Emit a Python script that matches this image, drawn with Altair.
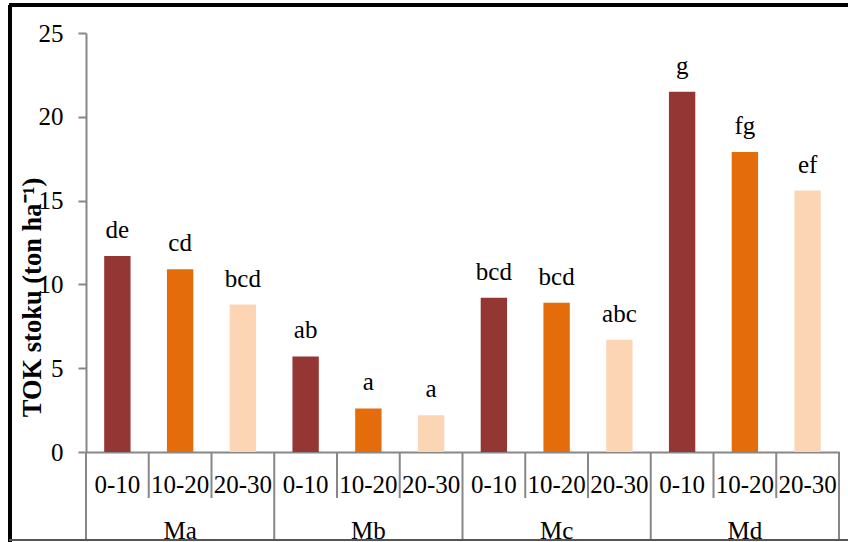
import altair as alt
import pandas as pd

# Soil organic carbon stock by management system and sampling depth
groups = ["Ma", "Mb", "Mc", "Md"]
depths = ["0-10", "10-20", "20-30"]
toc_stock = [11.7, 10.9, 8.8, 5.7, 2.6, 2.2, 9.2, 8.9, 6.7, 21.5, 17.9, 15.6]
letters = ["de", "cd", "bcd", "ab", "a", "a", "bcd", "bcd", "abc", "g", "fg", "ef"]
y_ticks = [0, 5, 10, 15, 20, 25]
bar_colors = ["#943634", "#E46C0A", "#FCD5B5"]

W, H = 753, 419
FONT = "Liberation Serif"
FS = 25
GRAY = "#878787"

rows = []
for gi, g in enumerate(groups):
    for di, d in enumerate(depths):
        k = gi * len(depths) + di
        rows.append({
            "key": f"{g} {d}",
            "group": g,
            "depth": d,
            "toc": toc_stock[k],
            "letter": letters[k],
            "first": di == 0,
            "middle": di == 1,
        })
df = pd.DataFrame(rows)
order = list(df["key"])

xs = alt.Scale(domain=order, paddingInner=0, paddingOuter=0)
x_enc = alt.X("key:N", scale=xs, sort=order,
              axis=alt.Axis(labels=False, ticks=False, title=None, domain=True,
                            domainColor=GRAY, domainWidth=2))
y_enc = alt.Y("toc:Q", scale=alt.Scale(domain=[0, 25], nice=False),
              axis=alt.Axis(values=y_ticks, grid=False, domainColor=GRAY, domainWidth=2,
                            tickColor=GRAY, tickWidth=2, tickSize=8,
                            labelFont=FONT, labelFontSize=FS, labelColor="black",
                            labelPadding=15,
                            title="TOK stoku (ton ha\u207b\u00b9)", titleFont=FONT,
                            titleFontSize=26.5, titleFontWeight="bold", titleColor="black",
                            titleAngle=-90, titleX=-54, titleY=264,
                            titleAlign="center", titleBaseline="middle"))

base = alt.Chart(df)

bars = base.mark_bar(width=alt.RelativeBandSize(0.42)).encode(
    x=x_enc,
    y=y_enc,
    color=alt.Color("depth:N", scale=alt.Scale(domain=depths, range=bar_colors), legend=None),
)

bar_text = base.mark_text(font=FONT, fontSize=FS, baseline="alphabetic", dy=-18, color="black").encode(
    x=alt.X("key:N", scale=xs, sort=order),
    y=alt.Y("toc:Q"),
    text="letter:N",
)

# Category axis: short separators between depths, long ones between groups
short_sep = base.transform_filter("!datum.first").mark_rule(color=GRAY, strokeWidth=2).encode(
    x=alt.X("key:N", scale=xs, sort=order, bandPosition=0),
    y=alt.value(H), y2=alt.value(H + 46),
)
long_sep = base.transform_filter("datum.first").mark_rule(color=GRAY, strokeWidth=2).encode(
    x=alt.X("key:N", scale=xs, sort=order, bandPosition=0),
    y=alt.value(H), y2=alt.value(H + 88),
)
end_sep = base.transform_filter(f"datum.key == '{order[-1]}'").mark_rule(color=GRAY, strokeWidth=2).encode(
    x=alt.X("key:N", scale=xs, sort=order, bandPosition=1),
    y=alt.value(H), y2=alt.value(H + 88),
)

depth_text = base.mark_text(font=FONT, fontSize=FS, baseline="alphabetic", color="black").encode(
    x=alt.X("key:N", scale=xs, sort=order),
    y=alt.value(H + 41),
    text="depth:N",
)
group_text = base.transform_filter("datum.middle").mark_text(
    font=FONT, fontSize=FS, baseline="alphabetic", color="black").encode(
    x=alt.X("key:N", scale=xs, sort=order),
    y=alt.value(H + 87),
    text="group:N",
)

# Frame lines around the figure
frame_left = base.mark_rule(color="black", strokeWidth=3).encode(
    x=alt.value(-76), y=alt.value(-28), y2=alt.value(H + 90))
frame_top = base.mark_rule(color="black", strokeWidth=3).encode(
    x=alt.value(-77), x2=alt.value(W + 9), y=alt.value(-28))
frame_bottom = base.mark_rule(color="#555555", strokeWidth=2).encode(
    x=alt.value(-77), x2=alt.value(W + 9), y=alt.value(H + 88))

chart = alt.layer(
    bars, bar_text, short_sep, long_sep, end_sep, depth_text, group_text,
    frame_left, frame_top, frame_bottom,
).properties(
    width=W, height=H,
    padding={"left": 86, "top": 33, "right": 9, "bottom": 90},
    autosize=alt.AutoSizeParams(type="none"),
    background="white",
).configure_view(stroke=None)

chart.save("out.html", embed_options={"renderer": "svg", "actions": False})
